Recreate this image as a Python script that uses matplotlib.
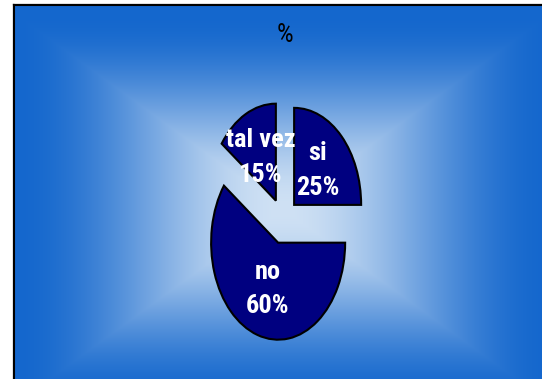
import numpy as np
import matplotlib
matplotlib.use("Agg")
import matplotlib.pyplot as plt
from matplotlib.lines import Line2D

labels = ["si", "no", "tal vez"]
values = [25, 60, 15]
title = "%"

FONT = ["Roboto Condensed", "Liberation Sans", "DejaVu Sans"]

W, H = 542, 379
fig = plt.figure(figsize=(W / 100, H / 100), dpi=100)
fig.patch.set_facecolor("white")

# background gradient (rectangular path gradient)
bg = fig.add_axes([0, 0, 1, 1])
bg.axis("off")
x0, y0, x1, y1 = 14, 5, 552, 397
cx, cy = (x0 + x1) / 2, (y0 + y1) / 2 + 8
hw, hh = (x1 - x0) / 2, (y1 - y0) / 2
xs = np.arange(x0, W) + 0.5
ys = np.arange(y0, H) + 0.5
X, Y = np.meshgrid(xs, ys)
t = np.maximum(np.abs(X - cx) / hw, np.abs(Y - cy) / hh)
t = np.clip(t, 0, 1)
f = 3 * t ** 2 - 2 * t ** 3
c_in = np.array([0xcf, 0xe1, 0xf4]) / 255
c_out = np.array([0x14, 0x67, 0xcd]) / 255
img = c_in[None, None, :] * (1 - f[..., None]) + c_out[None, None, :] * f[..., None]
bg.imshow(img, extent=[x0, W, H, y0], aspect="auto", interpolation="bilinear")
bg.add_line(Line2D([x0 - 1.5, x0 - 1.5], [H, y0 - 1.5], color="#999999", lw=1))
bg.add_line(Line2D([x0 - 1.5, W], [y0 - 1.5, y0 - 1.5], color="#999999", lw=1))
bg.add_line(Line2D([x0, x0], [H, y0], color="black", lw=1.5))
bg.add_line(Line2D([x0, W], [y0, y0], color="black", lw=1.5))
bg.set_xlim(0, W)
bg.set_ylim(H, 0)

fig.text(285 / W, 1 - 35 / H, title, ha="center", va="center", fontsize=19,
         family=FONT, color="black")

ax = fig.add_axes([182.5 / W, 12.5 / H, 201 / W, 291 / H])
it = iter(labels)
def fmt(p):
    return f"{next(it)}\n{p:.0f}%"
wedges, texts, autotexts = ax.pie(
    values, startangle=90, counterclock=False, explode=[0.235] * 3,
    colors=["#000080"] * 3, autopct=fmt, pctdistance=0.5,
    wedgeprops=dict(edgecolor="black", linewidth=1.5),
    textprops=dict(color="white", fontsize=19, family=FONT, weight="semibold",
                   linespacing=1.55))
ax.set_aspect("auto")
ax.set_xlim(-1.5, 1.5)
ax.set_ylim(-1.5, 1.5)
ax.axis("off")

fig.savefig("out.png", dpi=100)
